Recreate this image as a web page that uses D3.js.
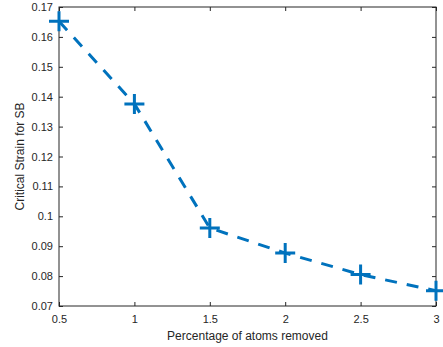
<!DOCTYPE html>
<html>
<head>
<meta charset="utf-8">
<script src="https://cdn.jsdelivr.net/npm/d3@7"></script>
<style>
  body { margin: 0; background: #fff; }
  text { font-family: "Liberation Sans", Arial, sans-serif; }
</style>
</head>
<body>
<div id="chart"></div>
<script>
// data
var percentRemoved = [0.5, 1, 1.5, 2, 2.5, 3];
var criticalStrain = [0.1652, 0.1376, 0.0961, 0.0877, 0.0805, 0.0751];
var xTicks = [0.5, 1, 1.5, 2, 2.5, 3];
var yTicks = [0.07, 0.08, 0.09, 0.1, 0.11, 0.12, 0.13, 0.14, 0.15, 0.16, 0.17];

var width = 443, height = 347;
var margin = {top: 7, right: 7, bottom: 41, left: 59};
var innerW = width - margin.left - margin.right;
var innerH = height - margin.top - margin.bottom;
var axisColor = '#262626';
var blue = '#0072BD';

var svg = d3.select('#chart').append('svg')
    .attr('width', width).attr('height', height);

var g = svg.append('g')
    .attr('transform', 'translate(' + margin.left + ',' + margin.top + ')');

var x = d3.scaleLinear().domain([0.5, 3]).range([0, innerW]);
var y = d3.scaleLinear().domain([0.07, 0.17]).range([innerH, 0]);

var fmt = function (d) { return String(+d.toFixed(2)); };

// box
g.append('rect')
    .attr('width', innerW).attr('height', innerH)
    .attr('fill', 'none').attr('stroke', axisColor).attr('stroke-width', 1);

// inward ticks on all four sides
var tickLen = 4;
var xAxis = d3.axisBottom(x).tickValues(xTicks).tickFormat(fmt).tickSizeInner(-tickLen).tickSizeOuter(0).tickPadding(9);
var yAxis = d3.axisLeft(y).tickValues(yTicks).tickFormat(fmt).tickSizeInner(-tickLen).tickSizeOuter(0).tickPadding(6);

var gx = g.append('g').attr('transform', 'translate(0,' + innerH + ')').call(xAxis);
var gy = g.append('g').call(yAxis);
var gxTop = g.append('g').call(d3.axisTop(x).tickValues(xTicks).tickFormat('').tickSizeInner(-tickLen).tickSizeOuter(0));
var gyRight = g.append('g').attr('transform', 'translate(' + innerW + ',0)')
    .call(d3.axisRight(y).tickValues(yTicks).tickFormat('').tickSizeInner(-tickLen).tickSizeOuter(0));

[gx, gy, gxTop, gyRight].forEach(function (a) {
    a.select('.domain').remove();
    a.selectAll('line').attr('stroke', axisColor);
    a.selectAll('text').attr('fill', axisColor).style('font-size', '11px');
});

// dashed line
var line = d3.line()
    .x(function (d, i) { return x(percentRemoved[i]); })
    .y(function (d) { return y(d); });

g.append('path')
    .datum(criticalStrain)
    .attr('d', line)
    .attr('fill', 'none')
    .attr('stroke', blue)
    .attr('stroke-width', 3)
    .attr('stroke-dasharray', '12,10');

// plus markers
var half = 10;
g.append('g').selectAll('path.marker')
    .data(criticalStrain)
    .enter()
    .append('path')
    .attr('class', 'marker')
    .attr('d', function (d, i) {
        var cx = x(percentRemoved[i]), cy = y(d);
        return 'M' + (cx - half) + ',' + cy + 'H' + (cx + half) +
               'M' + cx + ',' + (cy - half) + 'V' + (cy + half);
    })
    .attr('stroke', blue)
    .attr('stroke-width', 3)
    .attr('fill', 'none');

// labels
svg.append('text')
    .attr('x', margin.left + innerW / 2)
    .attr('y', 340)
    .attr('text-anchor', 'middle')
    .attr('fill', axisColor)
    .style('font-size', '12px')
    .text('Percentage of atoms removed');

svg.append('text')
    .attr('transform', 'translate(24,' + (margin.top + innerH / 2) + ') rotate(-90)')
    .attr('text-anchor', 'middle')
    .attr('fill', axisColor)
    .style('font-size', '12px')
    .text('Critical Strain for SB');
</script>
</body>
</html>
